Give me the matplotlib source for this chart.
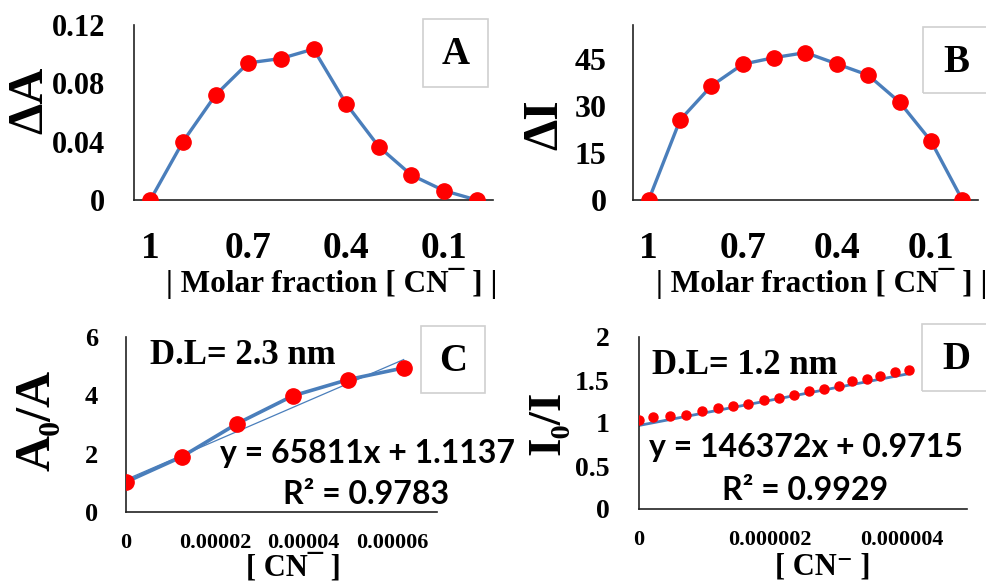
import numpy as np
import matplotlib
matplotlib.use('Agg')
import matplotlib.pyplot as plt
from matplotlib.patches import Rectangle

# Job plot data (panels A and B)
fraction = [1, 0.9, 0.8, 0.7, 0.6, 0.5, 0.4, 0.3, 0.2, 0.1, 0]
frac_labels = ['1', '0.7', '0.4', '0.1']
delta_A = [0, 0.040, 0.072, 0.094, 0.097, 0.1035, 0.066, 0.0366, 0.0171, 0.0064, 0]
delta_I = [0, 25.5, 36.4, 43.3, 45.4, 47.0, 43.4, 39.8, 31.2, 18.8, 0]

# Stern-Volmer type plots (panels C and D)
cn_c = [0, 1.25e-5, 2.5e-5, 3.75e-5, 5.0e-5, 6.25e-5]
a0_a = [1.03, 1.89, 3.03, 3.98, 4.54, 4.94]
slope_c, icept_c = 65811, 1.1137

cn_d = np.array([0, 0.22, 0.47, 0.72, 0.96, 1.20, 1.44, 1.66, 1.91, 2.14,
                 2.36, 2.59, 2.82, 3.05, 3.25, 3.47, 3.68, 3.91, 4.11]) * 1e-6
i0_i = [1.035, 1.066, 1.081, 1.093, 1.143, 1.17, 1.197, 1.216, 1.266, 1.293,
        1.324, 1.375, 1.40, 1.43, 1.486, 1.51, 1.544, 1.595, 1.62]
slope_d, icept_d = 146372, 0.9715

W, H = 987, 583
SERIF = ['Liberation Serif', 'DejaVu Serif']
SANS = ['Lato', 'DejaVu Sans']
BLUE = '#4a7ebb'
RED = '#ff0000'

fig = plt.figure(figsize=(W / 100, H / 100), dpi=100)


def px_axes(left, top, right, bottom):
    return fig.add_axes([left / W, 1 - bottom / H, (right - left) / W, (bottom - top) / H])


def style(ax, ysize, xsize, ypad, xpad):
    for s in ['top', 'right']:
        ax.spines[s].set_visible(False)
    for s in ['left', 'bottom']:
        ax.spines[s].set_color('#222222')
        ax.spines[s].set_linewidth(1.2)
    ax.tick_params(axis='y', length=0, pad=ypad)
    ax.tick_params(axis='x', length=0, pad=xpad)
    for t in ax.get_yticklabels():
        t.set_fontfamily(SERIF); t.set_fontweight('bold'); t.set_fontsize(ysize)
    for t in ax.get_xticklabels():
        t.set_fontfamily(SERIF); t.set_fontweight('bold'); t.set_fontsize(xsize)


def ftext(x, y, s, **kw):
    fig.text(x / W, 1 - y / H, s, **kw)


def letter_box(x0, y0, x1, y1, s):
    fig.patches.append(Rectangle((x0 / W, 1 - y1 / H), (x1 - x0) / W, (y1 - y0) / H,
                                 transform=fig.transFigure, fill=False,
                                 edgecolor='#d0d0d0', linewidth=1.2))
    ftext((x0 + x1) / 2, (y0 + y1) / 2 + 2, s, ha='center', va='center',
          family=SERIF, weight='bold', fontsize=28)


idx = np.arange(len(fraction))

# Panel A
ax = px_axes(134, 25, 493, 200)
ax.plot(idx, delta_A, color=BLUE, lw=2.4, zorder=2)
ax.plot(idx, delta_A, 'o', color=RED, ms=11, zorder=3)
ax.set_xlim(-0.5, len(fraction) - 0.5)
ax.set_ylim(0, 0.12)
ax.set_yticks([0, 0.04, 0.08, 0.12])
ax.set_yticklabels(['0', '0.04', '0.08', '0.12'])
ax.set_xticks([0, 3, 6, 9])
ax.set_xticklabels(frac_labels)
style(ax, 22, 27, 21, 22)
ftext(30, 100, 'ΔA', rotation=90, ha='center', va='center', family=SERIF,
      weight='bold', fontsize=36)
ftext(332, 283, '| Molar fraction [ CN¯ ] |', ha='center', va='center',
      family=SERIF, weight='bold', fontsize=22.5)
letter_box(423, 19, 488, 87, 'A')

# Panel B
ax = px_axes(633, 25, 978, 200)
ax.plot(idx, delta_I, color=BLUE, lw=2.4, zorder=2)
ax.plot(idx, delta_I, 'o', color=RED, ms=11, zorder=3)
ax.set_xlim(-0.5, len(fraction) - 0.5)
ax.set_ylim(0, 55.8)
ax.set_yticks([0, 15, 30, 45])
ax.set_xticks([0, 3, 6, 9])
ax.set_xticklabels(frac_labels)
style(ax, 23, 27, 19, 22)
ftext(545, 125, 'ΔI', rotation=90, ha='center', va='center', family=SERIF,
      weight='bold', fontsize=36)
ftext(822, 283, '| Molar fraction [ CN¯ ] |', ha='center', va='center',
      family=SERIF, weight='bold', fontsize=22.5)
letter_box(923, 27, 990, 93, 'B')

# Panel C
ax = px_axes(126, 337, 437, 512)
xs = np.array([0, max(cn_c)])
ax.plot(xs, slope_c * xs + icept_c, color=BLUE, lw=0.9, zorder=2)
ax.plot(cn_c, a0_a, color=BLUE, lw=2.6, zorder=2)
ax.plot(cn_c, a0_a, 'o', color=RED, ms=11, zorder=3)
ax.set_xlim(0, 7e-5)
ax.set_ylim(0, 6)
ax.set_yticks([0, 2, 4, 6])
ax.set_xticks([0, 2e-5, 4e-5, 6e-5])
ax.set_xticklabels(['0', '0.00002', '0.00004', '0.00006'])
style(ax, 19, 16, 20, 15)
ftext(38, 420, 'A₀/A', rotation=90, ha='center', va='center', family=SERIF,
      weight='bold', fontsize=36)
ftext(293, 568, '[ CN¯ ]', ha='center', va='center', family=SERIF,
      weight='bold', fontsize=22)
ftext(150, 356, 'D.L= 2.3 nm', ha='left', va='center', family=SERIF,
      weight='bold', fontsize=25)
ftext(220, 453, 'y = 65811x + 1.1137', ha='left', va='center', family=SANS,
      weight='bold', fontsize=23)
ftext(283, 495, 'R² = 0.9783', ha='left', va='center', family=SANS,
      weight='bold', fontsize=23)
letter_box(421, 326, 485, 393, 'C')

# Panel D
ax = px_axes(639, 337, 967, 509)
xs = np.array([0, cn_d.max()])
ax.plot(xs, slope_d * xs + icept_d, color=BLUE, lw=2.0, zorder=2)
ax.plot(cn_d, i0_i, 'o', color=RED, ms=6.5, zorder=3)
ax.set_xlim(0, 5e-6)
ax.set_ylim(0, 2)
ax.set_yticks([0, 0.5, 1, 1.5, 2])
ax.set_yticklabels(['0', '0.5', '1', '1.5', '2'])
ax.set_xticks([0, 2e-6, 4e-6])
ax.set_xticklabels(['0', '0.000002', '0.000004'])
style(ax, 20, 16, 21, 15)
ftext(548, 423, 'I₀/I', rotation=90, ha='center', va='center', family=SERIF,
      weight='bold', fontsize=34)
ftext(823, 567, '[ CN⁻ ]', ha='center', va='center', family=SERIF,
      weight='bold', fontsize=22)
ftext(652, 365, 'D.L= 1.2 nm', ha='left', va='center', family=SERIF,
      weight='bold', fontsize=25)
ftext(649, 447, 'y = 146372x + 0.9715', ha='left', va='center', family=SANS,
      weight='bold', fontsize=23)
ftext(722, 490, 'R² = 0.9929', ha='left', va='center', family=SANS,
      weight='bold', fontsize=23)
letter_box(922, 324, 990, 391, 'D')

fig.savefig('out.png', dpi=100)
